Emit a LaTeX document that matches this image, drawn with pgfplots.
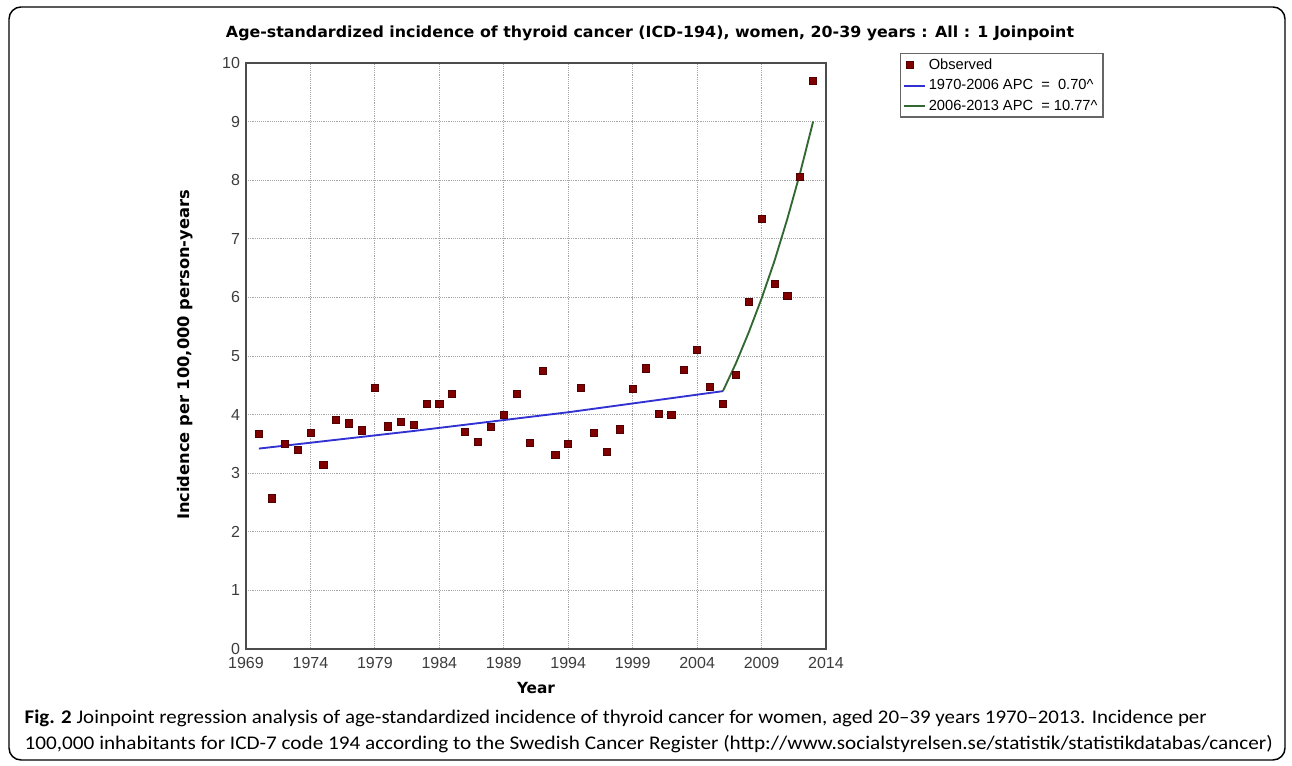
\documentclass[border=0pt]{standalone}
\usepackage{pgfplots}
\pgfplotsset{compat=1.18}
\usepackage{fontspec}
\setmainfont{Liberation Sans}
\newfontfamily\titlefont{DejaVu Sans}
\newfontfamily\capfont{Carlito}
\definecolor{obsred}{RGB}{128,0,0}
\definecolor{obsedge}{RGB}{80,0,0}
\definecolor{fitblue}{RGB}{50,50,210}
\definecolor{fitgreen}{RGB}{50,105,50}
\definecolor{ticktext}{RGB}{60,60,60}
\pgfplotsset{
  linelegend/.style={legend image code/.code={\draw[##1] (0cm,0cm) -- (0.55cm,0cm);}},
  marklegend/.style={legend image code/.code={\draw[##1] plot coordinates {(0.15cm,0cm)};}},
}
\begin{document}
\begin{tikzpicture}
\begin{scope}[x=0.75pt,y=0.75pt]
\useasboundingbox (0,0) rectangle (1292,766);
\draw[line width=1.1pt, rounded corners=9pt] (9,6) rectangle (1285,759);
\end{scope}
\begin{axis}[
  at={(184.5pt,87.75pt)}, anchor=south west,
  scale only axis, width=435pt, height=439.5pt,
  xmin=1969, xmax=2014, ymin=0, ymax=10,
  xtick={1969,1974,...,2014}, ytick={0,1,...,10},
  xticklabel style={/pgf/number format/1000 sep={}, yshift=-3pt},
  yticklabel style={xshift=-1pt},
  /pgf/number format/assume math mode=true,
  ticklabel style={font=\fontsize{12}{14}\selectfont, text=ticktext},
  tick style={draw=none},
  grid=major,
  major grid style={densely dotted, draw=black!35, line width=0.6pt},
  axis line style={draw=black!70, line width=1.5pt},
  clip=false,
  legend style={at={(1.1276,1.017)}, anchor=north west, draw=black!60, line width=1.1pt,
    font=\fontsize{11}{12}\selectfont, inner xsep=2pt, inner ysep=2pt, row sep=3pt,
    cells={anchor=west}, nodes={inner ysep=1.6pt}},
  legend cell align=left,
]
\addplot[only marks, mark=square*, mark size=2.7pt, mark options={fill=obsred, draw=obsedge, line width=0.5pt}, marklegend]
coordinates {
(1970,3.67)(1971,2.57)(1972,3.50)(1973,3.40)(1974,3.69)(1975,3.14)(1976,3.91)(1977,3.85)
(1978,3.73)(1979,4.46)(1980,3.80)(1981,3.88)(1982,3.82)(1983,4.19)(1984,4.19)(1985,4.36)
(1986,3.70)(1987,3.54)(1988,3.79)(1989,4.00)(1990,4.36)(1991,3.52)(1992,4.75)(1993,3.31)
(1994,3.50)(1995,4.46)(1996,3.69)(1997,3.36)(1998,3.75)(1999,4.44)(2000,4.79)(2001,4.01)
(2002,4.00)(2003,4.77)(2004,5.10)(2005,4.47)(2006,4.19)(2007,4.68)(2008,5.93)(2009,7.34)
(2010,6.23)(2011,6.02)(2012,8.06)(2013,9.70)};
\addlegendentry{Observed}
\addplot[fitblue, line width=1.4pt, mark=none, linelegend]
coordinates {(1970,3.42)(1976,3.57)(1982,3.72)(1988,3.88)(1994,4.04)(2000,4.22)(2006,4.40)};
\addlegendentry{1970-2006 APC \ = \ 0.70\textasciicircum}
\addplot[fitgreen, line width=1.4pt, mark=none, linelegend]
coordinates {(2006,4.40)(2007,4.87)(2008,5.40)(2009,5.98)(2010,6.62)(2011,7.34)(2012,8.13)(2013,9.00)};
\addlegendentry{2006-2013 APC \ = 10.77\textasciicircum}
\end{axis}
\begin{scope}[x=0.75pt,y=0.75pt]
\node at (650,733) {\resizebox{636pt}{\height}{\titlefont\bfseries\fontsize{11.5}{13}\selectfont Age-standardized incidence of thyroid cancer (ICD-194), women, 20-39 years : All : 1 Joinpoint}};
\node at (536,78) {\titlefont\bfseries\fontsize{11.5}{13}\selectfont Year};
\node[rotate=90] at (185,411) {\resizebox{247.5pt}{\height}{\titlefont\bfseries\fontsize{12}{14}\selectfont Incidence per 100,000 person-years}};
\node[anchor=west] at (20,48) {\resizebox{886.5pt}{\height}{\capfont\fontsize{14.5}{16}\selectfont\textbf{Fig. 2} Joinpoint regression analysis of age-standardized incidence of thyroid cancer for women, aged 20–39 years 1970–2013. Incidence per}};
\node[anchor=west] at (20,22) {\resizebox{936pt}{\height}{\capfont\fontsize{14.5}{16}\selectfont 100,000 inhabitants for ICD-7 code 194 according to the Swedish Cancer Register (http://www.socialstyrelsen.se/statistik/statistikdatabas/cancer)}};
\end{scope}
\end{tikzpicture}
\end{document}
